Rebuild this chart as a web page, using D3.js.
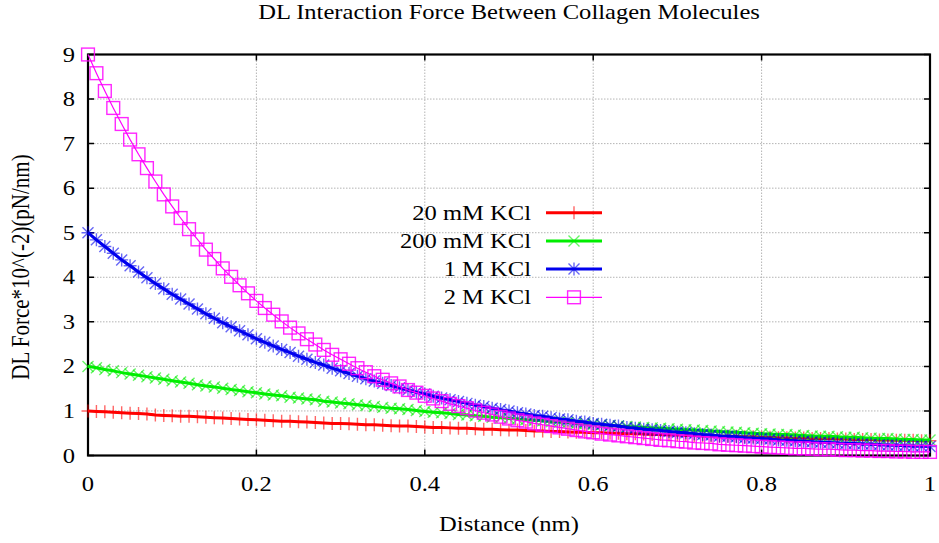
<!DOCTYPE html>
<html>
<head>
<meta charset="utf-8">
<script src="https://cdn.jsdelivr.net/npm/d3@7"></script>
<style>
  body { margin: 0; background: #fff; }
  text { font-family: "Liberation Serif", "Times New Roman", serif; fill: #000; }
</style>
</head>
<body>
<div id="chart"></div>
<script>
// distance (nm), one point every 0.01
var distance = [0,0.01,0.02,0.03,0.04,0.05,0.06,0.07,0.08,0.09,
  0.10,0.11,0.12,0.13,0.14,0.15,0.16,0.17,0.18,0.19,
  0.20,0.21,0.22,0.23,0.24,0.25,0.26,0.27,0.28,0.29,
  0.30,0.31,0.32,0.33,0.34,0.35,0.36,0.37,0.38,0.39,
  0.40,0.41,0.42,0.43,0.44,0.45,0.46,0.47,0.48,0.49,
  0.50,0.51,0.52,0.53,0.54,0.55,0.56,0.57,0.58,0.59,
  0.60,0.61,0.62,0.63,0.64,0.65,0.66,0.67,0.68,0.69,
  0.70,0.71,0.72,0.73,0.74,0.75,0.76,0.77,0.78,0.79,
  0.80,0.81,0.82,0.83,0.84,0.85,0.86,0.87,0.88,0.89,
  0.90,0.91,0.92,0.93,0.94,0.95,0.96,0.97,0.98,0.99,1.00];

var kcl20mM = [1.00,0.99,0.98,0.97,0.96,0.95,0.94,0.93,0.91,0.90,
  0.89,0.88,0.88,0.87,0.86,0.85,0.84,0.83,0.82,0.81,
  0.80,0.79,0.78,0.77,0.77,0.76,0.75,0.74,0.73,0.72,
  0.72,0.71,0.70,0.69,0.69,0.68,0.67,0.66,0.66,0.65,
  0.64,0.63,0.63,0.62,0.61,0.61,0.60,0.59,0.59,0.58,
  0.57,0.57,0.56,0.55,0.55,0.54,0.54,0.53,0.52,0.52,
  0.51,0.51,0.50,0.50,0.49,0.49,0.48,0.47,0.47,0.46,
  0.46,0.45,0.45,0.44,0.44,0.43,0.43,0.43,0.42,0.42,
  0.41,0.41,0.40,0.40,0.39,0.39,0.38,0.38,0.38,0.37,
  0.37,0.36,0.36,0.36,0.35,0.35,0.34,0.34,0.34,0.33,0.33];

var kcl200mM = [2.00,1.97,1.93,1.90,1.86,1.83,1.80,1.77,1.74,1.71,
  1.68,1.65,1.62,1.59,1.56,1.54,1.51,1.48,1.46,1.43,
  1.41,1.38,1.36,1.34,1.31,1.29,1.27,1.25,1.22,1.20,
  1.18,1.16,1.14,1.12,1.10,1.08,1.06,1.05,1.03,1.01,
  0.99,0.97,0.96,0.94,0.92,0.91,0.89,0.88,0.86,0.85,
  0.83,0.82,0.80,0.79,0.78,0.76,0.75,0.74,0.72,0.71,
  0.70,0.69,0.67,0.66,0.65,0.64,0.63,0.62,0.61,0.60,
  0.59,0.58,0.57,0.56,0.55,0.54,0.53,0.52,0.51,0.50,
  0.49,0.48,0.47,0.47,0.46,0.45,0.44,0.43,0.43,0.42,
  0.41,0.41,0.40,0.39,0.38,0.38,0.37,0.36,0.36,0.35,0.35];

var kcl1M = [5.00,4.84,4.69,4.54,4.39,4.26,4.12,3.99,3.86,3.74,
  3.62,3.51,3.40,3.29,3.18,3.08,2.98,2.89,2.80,2.71,
  2.62,2.54,2.46,2.38,2.31,2.23,2.16,2.09,2.03,1.96,
  1.90,1.84,1.78,1.72,1.67,1.62,1.57,1.52,1.47,1.42,
  1.38,1.33,1.29,1.25,1.21,1.17,1.13,1.10,1.06,1.03,
  1.00,0.96,0.93,0.90,0.88,0.85,0.82,0.80,0.77,0.75,
  0.72,0.70,0.68,0.66,0.63,0.61,0.59,0.58,0.56,0.54,
  0.52,0.51,0.49,0.47,0.46,0.44,0.43,0.42,0.40,0.39,
  0.38,0.37,0.35,0.34,0.33,0.32,0.31,0.30,0.29,0.28,
  0.27,0.27,0.26,0.25,0.24,0.23,0.23,0.22,0.21,0.21,0.20];

var kcl2M = [9.00,8.58,8.18,7.80,7.44,7.09,6.76,6.45,6.15,5.86,
  5.59,5.33,5.08,4.85,4.62,4.41,4.20,4.01,3.82,3.64,
  3.47,3.31,3.16,3.01,2.87,2.74,2.61,2.49,2.37,2.26,
  2.16,2.06,1.96,1.87,1.78,1.70,1.62,1.55,1.47,1.41,
  1.34,1.28,1.22,1.16,1.11,1.06,1.01,0.96,0.92,0.87,
  0.83,0.79,0.76,0.72,0.69,0.66,0.63,0.60,0.57,0.54,
  0.52,0.49,0.47,0.45,0.43,0.41,0.39,0.37,0.35,0.34,
  0.32,0.31,0.29,0.28,0.27,0.25,0.24,0.23,0.22,0.21,
  0.20,0.19,0.18,0.17,0.16,0.16,0.15,0.14,0.14,0.13,
  0.12,0.12,0.11,0.11,0.10,0.10,0.09,0.09,0.08,0.08,0.08];

var seriesNames = ["20 mM KCl", "200 mM KCl", "1 M KCl", "2 M KCl"];
var xTicks = [0, 0.2, 0.4, 0.6, 0.8, 1];
var xTickLabels = ["0", "0.2", "0.4", "0.6", "0.8", "1"];
var yTicks = [0, 1, 2, 3, 4, 5, 6, 7, 8, 9];
var yTickLabels = ["0", "1", "2", "3", "4", "5", "6", "7", "8", "9"];

var W = 939, H = 543,
    plot = { left: 88, right: 930, top: 54.5, bottom: 455.5 },
    stretch = 1.17,   // the picture's text is a bit wider than plain Times
    fontSize = 21;

var series = [
  { name: seriesNames[0], values: kcl20mM,  color: "#ff0000", width: 3,   marker: "plus" },
  { name: seriesNames[1], values: kcl200mM, color: "#00ee00", width: 3,   marker: "cross" },
  { name: seriesNames[2], values: kcl1M,    color: "#0000ee", width: 3,   marker: "star" },
  { name: seriesNames[3], values: kcl2M,    color: "#ff00ff", width: 1.2, marker: "box" }
];

var x = d3.scaleLinear().domain([0, 1]).range([plot.left, plot.right]);
var y = d3.scaleLinear().domain([0, 9]).range([plot.bottom, plot.top]);

var svg = d3.select("#chart").append("svg")
    .attr("width", W)
    .attr("height", H);

function label(g, txt, tx, ty, anchor) {
  return g.append("text")
      .attr("transform", "translate(" + tx + "," + ty + ") scale(" + stretch + ",1)")
      .attr("text-anchor", anchor)
      .style("font-size", fontSize + "px")
      .text(txt);
}

// grid
var grid = svg.append("g");
grid.selectAll(".gx").data(xTicks.slice(1, -1)).enter().append("line")
    .attr("x1", function(d) { return x(d); }).attr("x2", function(d) { return x(d); })
    .attr("y1", plot.top).attr("y2", plot.bottom)
    .attr("stroke", "#b4b4b4").attr("stroke-width", 1).attr("stroke-dasharray", "1.5,1.5");
grid.selectAll(".gy").data(yTicks.slice(1, -1)).enter().append("line")
    .attr("y1", function(d) { return y(d); }).attr("y2", function(d) { return y(d); })
    .attr("x1", plot.left).attr("x2", plot.right)
    .attr("stroke", "#b4b4b4").attr("stroke-width", 1).attr("stroke-dasharray", "1.5,1.5");

// border + inward ticks on all four sides
var frame = svg.append("g").attr("stroke", "#000").attr("stroke-width", 1.5);
frame.selectAll(".tx").data(xTicks).enter().append("path")
    .attr("d", function(d) {
      return "M" + x(d) + "," + plot.bottom + "v-6M" + x(d) + "," + plot.top + "v6";
    });
frame.selectAll(".ty").data(yTicks).enter().append("path")
    .attr("d", function(d) {
      return "M" + plot.left + "," + y(d) + "h6M" + plot.right + "," + y(d) + "h-6";
    });
frame.append("rect")
    .attr("x", plot.left).attr("y", plot.top)
    .attr("width", plot.right - plot.left).attr("height", plot.bottom - plot.top)
    .attr("fill", "none").attr("stroke-width", 2.2);

// tick labels
var labels = svg.append("g");
xTicks.forEach(function(d, i) { label(labels, xTickLabels[i], x(d), 491, "middle"); });
yTicks.forEach(function(d, i) { label(labels, yTickLabels[i], 75, y(d) + 7, "end"); });

// titles
label(labels, "DL Interaction Force Between Collagen Molecules", 509, 19, "middle");
label(labels, "Distance (nm)", 509, 531, "middle");
labels.append("text")
    .attr("transform", "translate(29,267) scale(" + stretch + ",1) rotate(-90)")
    .attr("text-anchor", "middle")
    .style("font-size", fontSize + "px")
    .text("DL Force*10^(-2)(pN/nm)");

function drawMarker(g, type, color, cx, cy) {
  if (type === "box") {
    g.append("rect")
        .attr("x", cx - 6.4).attr("y", cy - 6.4).attr("width", 12.8).attr("height", 12.8)
        .attr("fill", "none").attr("stroke", color).attr("stroke-width", 1.4)
        .attr("stroke-opacity", 0.85);
    return;
  }
  var p = "";
  if (type === "plus" || type === "star") p += "M" + (cx - 6.5) + "," + cy + "h13M" + cx + "," + (cy - 6.5) + "v13";
  if (type === "cross" || type === "star") p += "M" + (cx - 5.5) + "," + (cy - 5.5) + "l11,11M" + (cx - 5.5) + "," + (cy + 5.5) + "l11,-11";
  g.append("path").attr("d", p).attr("fill", "none")
      .attr("stroke", color).attr("stroke-width", 1.4).attr("stroke-opacity", 0.6);
}

var line = d3.line()
    .x(function(d, i) { return x(distance[i]); })
    .y(function(d) { return y(d); });

series.forEach(function(s) {
  var g = svg.append("g");
  g.append("path")
      .attr("d", line(s.values))
      .attr("fill", "none")
      .attr("stroke", s.color)
      .attr("stroke-width", s.width)
      .attr("stroke-linejoin", "round");
  s.values.forEach(function(v, i) {
    drawMarker(g, s.marker, s.color, x(distance[i]), y(v));
  });
});

// legend
var legend = svg.append("g");
series.forEach(function(s, i) {
  var ly = 212.7 + i * 28.2;
  label(legend, s.name, 531, ly + 7, "end");
  legend.append("line")
      .attr("x1", 546).attr("x2", 602).attr("y1", ly).attr("y2", ly)
      .attr("stroke", s.color).attr("stroke-width", s.width);
  drawMarker(legend, s.marker, s.color, 574, ly);
});
</script>
</body>
</html>
